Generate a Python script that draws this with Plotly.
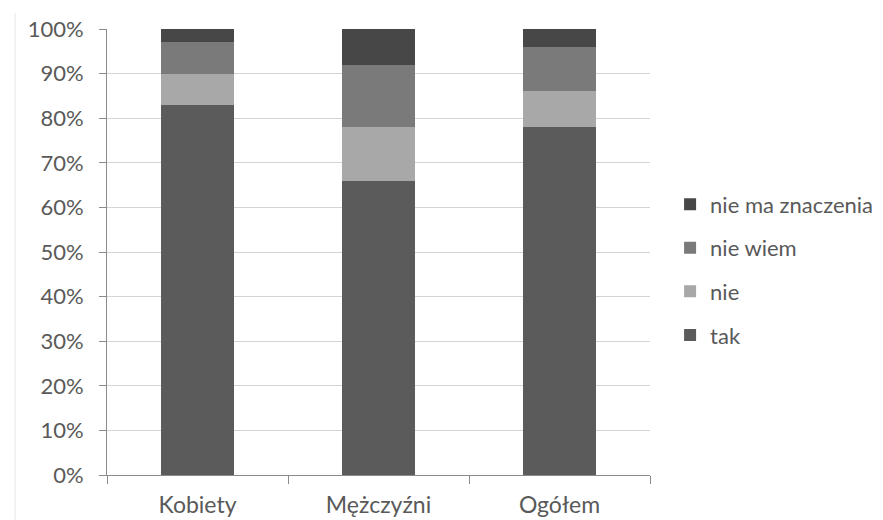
import plotly.graph_objects as go

categories = ["Kobiety", "Mężczyźni", "Ogółem"]
tak = [83, 66, 78]
nie = [7, 12, 8]
nie_wiem = [7, 14, 10]
nie_ma_znaczenia = [3, 8, 4]
series_names = ["tak", "nie", "nie wiem", "nie ma znaczenia"]
series_values = [tak, nie, nie_wiem, nie_ma_znaczenia]
legend_ranks = [4, 3, 2, 1]
y_tick_values = [0, 10, 20, 30, 40, 50, 60, 70, 80, 90, 100]
y_tick_labels = [f"{v}%" for v in y_tick_values]
colors = ["#5b5b5b", "#a8a8a8", "#7a7a7a", "#474747"]

fig = go.Figure()
for name, vals, col, rank in zip(series_names, series_values, colors, legend_ranks):
    fig.add_trace(go.Bar(
        x=categories, y=vals, name=name, legendgroup=name, legendrank=rank,
        marker=dict(color=col, line=dict(width=0)),
        width=0.4,
    ))

font_family = "Lato, 'Open Sans', sans-serif"
fig.update_layout(
    barmode="stack",
    width=875, height=512,
    margin=dict(l=99, r=233, t=21, b=45, autoexpand=False),
    paper_bgcolor="white", plot_bgcolor="white",
    font=dict(family=font_family, size=22, color="#595959"),
    showlegend=True,
    legend=dict(
        x=1.037, y=0.46, xanchor="left", yanchor="middle",
        traceorder="grouped", tracegroupgap=12,
        font=dict(size=22, color="#595959"),
        itemwidth=30,
    ),
    xaxis=dict(
        showline=True, linecolor="#8a8a8a", linewidth=1,
        ticks="outside", ticklen=8, tickcolor="#8a8a8a",
        tickson="boundaries", ticklabelstandoff=9,
        tickfont=dict(size=23, color="#595959"),
        showgrid=False,
    ),
    yaxis=dict(
        range=[0, 100], tickmode="array",
        tickvals=y_tick_values, ticktext=y_tick_labels,
        showline=True, linecolor="#8a8a8a", linewidth=1,
        ticks="outside", ticklen=7, tickcolor="#8a8a8a",
        ticklabelstandoff=11,
        showgrid=True, gridcolor="#d4d4d4", gridwidth=1,
        tickfont=dict(size=22, color="#595959"),
        zeroline=False,
    ),
    shapes=[dict(type="line", xref="paper", yref="paper",
                 x0=-92/543, x1=-92/543, y0=-45/446, y1=(446+16)/446,
                 line=dict(color="#e6e6e6", width=1))],
)

fig.write_html("out.html")
